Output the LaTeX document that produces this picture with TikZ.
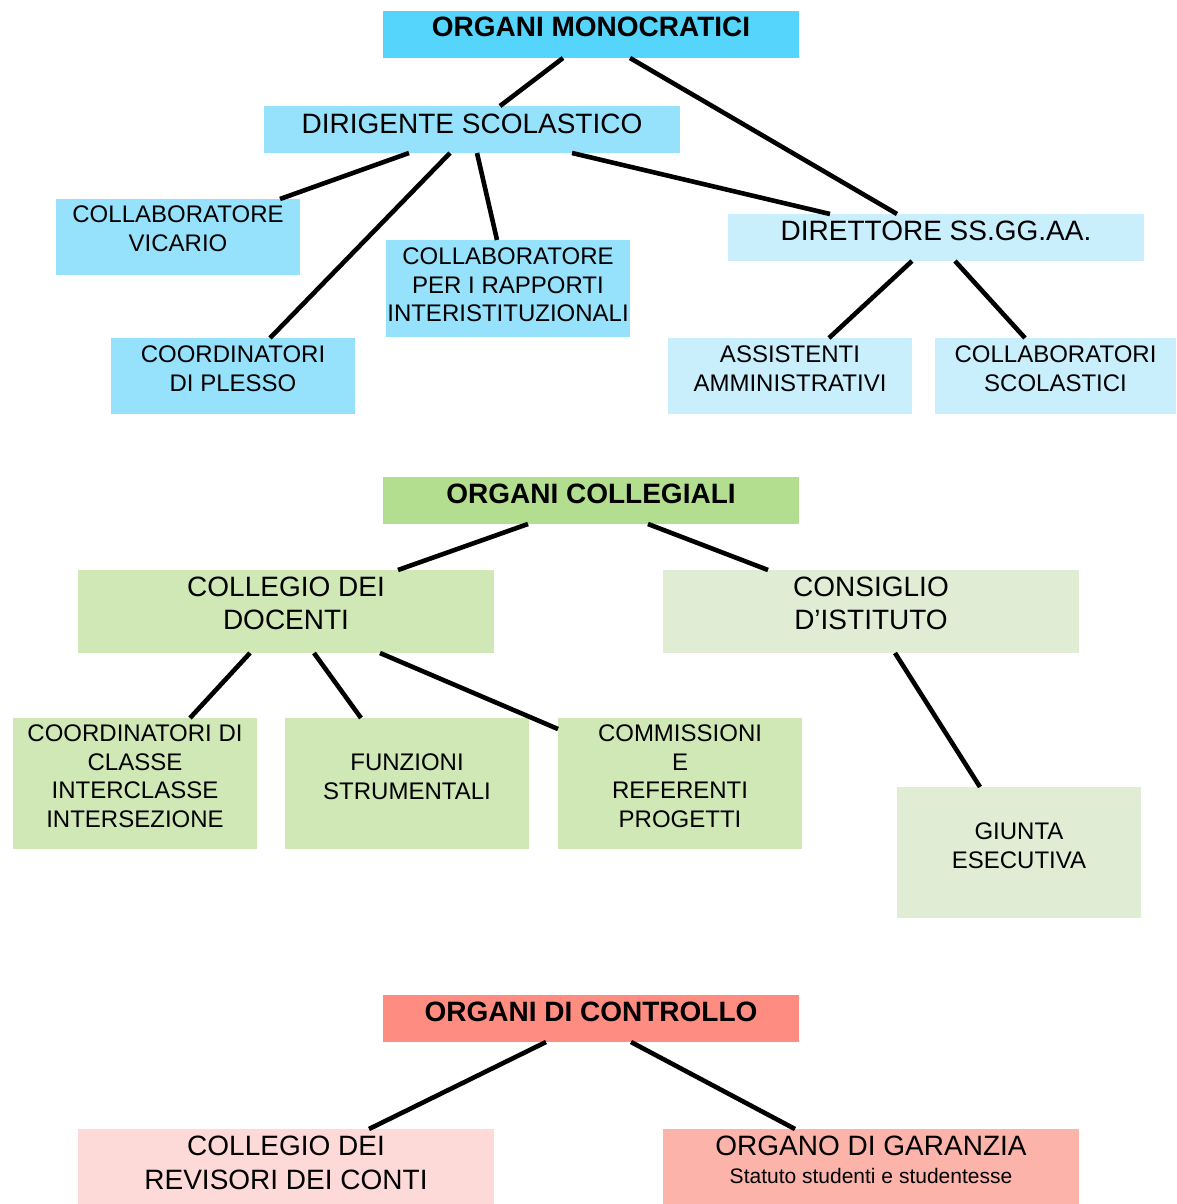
\documentclass[tikz,border=0pt]{standalone}
\usepackage{fontspec}
\setmainfont{Liberation Sans}
\usetikzlibrary{calc}
\definecolor{cMono}{RGB}{85,212,252}
\definecolor{cMid}{RGB}{150,226,252}
\definecolor{cLight}{RGB}{201,238,252}
\definecolor{cColl}{RGB}{179,222,143}
\definecolor{cDoc}{RGB}{207,232,182}
\definecolor{cIst}{RGB}{224,237,212}
\definecolor{cCtrl}{RGB}{255,140,128}
\definecolor{cRev}{RGB}{253,218,216}
\definecolor{cGar}{RGB}{252,179,170}
% width, height, first-baseline offset, font size, baselineskip, text
\newcommand\bt[6]{\parbox[c][#2pt][t]{#1pt}{\fontsize{#4}{#5}\selectfont\centering\rule{0pt}{#3pt}#6\par}}
\begin{document}
\begin{tikzpicture}[x=1pt,y=-1pt,
  box/.style={fill=#1, inner sep=0pt, outer sep=0pt, anchor=north west},
  link/.style={line width=4.6pt, line cap=butt, black}]
\useasboundingbox (0,0) rectangle (1176,1204);
% --- ORGANI MONOCRATICI
\node[box=cMono] (mono) at (383,11) {\bt{416}{47}{26}{28}{33}{\bfseries ORGANI MONOCRATICI}};
\node[box=cMid] (dirs) at (264,106) {\bt{416}{47}{27}{28}{33}{DIRIGENTE SCOLASTICO}};
\node[box=cMid] (vic) at (56,199) {\bt{244}{76}{23.5}{24}{29}{COLLABORATORE\\VICARIO}};
\node[box=cMid] (rapp) at (386,240) {\bt{244}{97}{24.5}{24}{28.5}{COLLABORATORE\\PER I RAPPORTI\\INTERISTITUZIONALI}};
\node[box=cMid] (ples) at (111,338) {\bt{244}{76}{24.5}{24}{28.5}{COORDINATORI\\DI PLESSO}};
\node[box=cLight] (dsga) at (728,214) {\bt{416}{47}{26}{28}{33}{DIRETTORE SS.GG.AA.}};
\node[box=cLight] (ass) at (668,338) {\bt{244}{76}{24.5}{24}{28.5}{ASSISTENTI\\AMMINISTRATIVI}};
\node[box=cLight] (cs) at (935,338) {\bt{241}{76}{24.5}{24}{28.5}{COLLABORATORI\\SCOLASTICI}};
% --- ORGANI COLLEGIALI
\node[box=cColl] (coll) at (383,477) {\bt{416}{47}{26}{28}{33}{\bfseries ORGANI COLLEGIALI}};
\node[box=cDoc] (cdoc) at (78,570) {\bt{416}{83}{26}{28}{33}{COLLEGIO DEI\\DOCENTI}};
\node[box=cIst] (cist) at (663,570) {\bt{416}{83}{26}{28}{33}{CONSIGLIO\\D’ISTITUTO}};
\node[box=cDoc] (ccl) at (13,718) {\bt{244}{131}{23.5}{24}{28.7}{COORDINATORI DI\\CLASSE\\INTERCLASSE\\INTERSEZIONE}};
\node[box=cDoc] (funz) at (285,718) {\bt{244}{131}{52.5}{24}{28.5}{FUNZIONI\\STRUMENTALI}};
\node[box=cDoc] (comm) at (558,718) {\bt{244}{131}{23.5}{24}{28.7}{COMMISSIONI\\E\\REFERENTI\\PROGETTI}};
\node[box=cIst] (giunta) at (897,787) {\bt{244}{131}{52.5}{24}{28.7}{GIUNTA\\ESECUTIVA}};
% --- ORGANI DI CONTROLLO
\node[box=cCtrl] (ctrl) at (383,995) {\bt{416}{47}{26}{28}{33}{\bfseries ORGANI DI CONTROLLO}};
\node[box=cRev] (rev) at (78,1129) {\bt{416}{75}{26}{28}{34}{COLLEGIO DEI\\REVISORI DEI CONTI}};
\node[box=cGar] (gar) at (663,1129) {\bt{416}{75}{26}{28}{33}{ORGANO DI GARANZIA\\[-4.5pt]{\fontsize{21}{33}\selectfont Statuto studenti e studentesse}}};
% --- connectors
\draw[link] ([xshift=180pt]mono.south west) -- ([xshift=236pt]dirs.north west);
\draw[link] ([xshift=247pt]mono.south west) -- ([xshift=169pt]dsga.north west);
\draw[link] ([xshift=145pt]dirs.south west) -- ([xshift=224pt]vic.north west);
\draw[link] ([xshift=186pt]dirs.south west) -- ([xshift=159pt]ples.north west);
\draw[link] ([xshift=213pt]dirs.south west) -- ([xshift=111pt]rapp.north west);
\draw[link] ([xshift=308pt]dirs.south west) -- ([xshift=102pt]dsga.north west);
\draw[link] ([xshift=184pt]dsga.south west) -- ([xshift=161pt]ass.north west);
\draw[link] ([xshift=227pt]dsga.south west) -- ([xshift=90pt]cs.north west);
\draw[link] ([xshift=145pt]coll.south west) -- ([xshift=320pt]cdoc.north west);
\draw[link] ([xshift=265pt]coll.south west) -- ([xshift=105pt]cist.north west);
\draw[link] ([xshift=172pt]cdoc.south west) -- ([xshift=177pt]ccl.north west);
\draw[link] ([xshift=236pt]cdoc.south west) -- ([xshift=76pt]funz.north west);
\draw[link] ([xshift=302pt]cdoc.south west) -- ([yshift=-11pt]comm.north west);
\draw[link] ([xshift=232pt]cist.south west) -- ([xshift=83pt]giunta.north west);
\draw[link] ([xshift=163pt]ctrl.south west) -- ([xshift=291pt]rev.north west);
\draw[link] ([xshift=248pt]ctrl.south west) -- ([xshift=132pt]gar.north west);
\end{tikzpicture}
\end{document}
